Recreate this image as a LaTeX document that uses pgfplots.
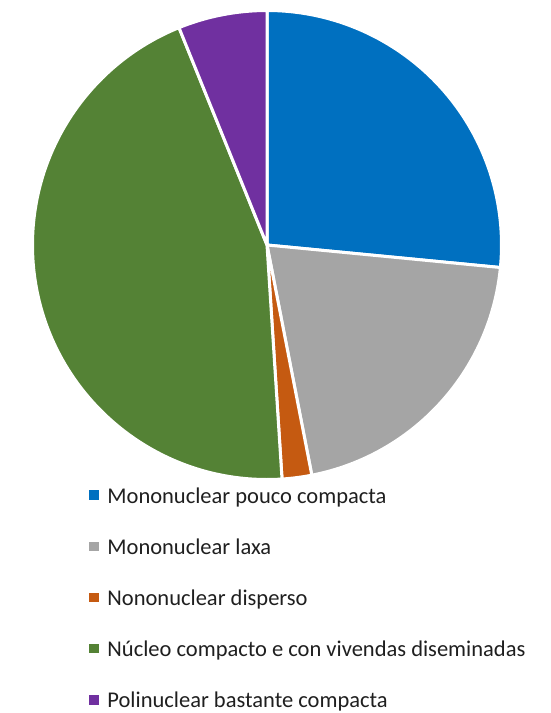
\documentclass[border=0pt]{standalone}
\usepackage{pgfplots}
\usepackage{pgfplotstable}
\pgfplotsset{compat=1.18}
\usepackage{fontspec}
\setmainfont{Carlito}
\definecolor{pc0}{HTML}{0070C0}
\definecolor{pc1}{HTML}{A5A5A5}
\definecolor{pc2}{HTML}{C55A11}
\definecolor{pc3}{HTML}{548235}
\definecolor{pc4}{HTML}{7030A0}
\pgfplotstableread[col sep=comma]{
label,value
Mononuclear pouco compacta,13
Mononuclear laxa,10
Nononuclear disperso,1
Núcleo compacto e con vivendas diseminadas,22
Polinuclear bastante compacta,3
}\piedata
\begin{document}
\begin{tikzpicture}
\useasboundingbox (-32.5pt,-233.5pt) rectangle (517.5pt,479.5pt);
% cumulative angles
\pgfplotstablegetrowsof{\piedata}
\pgfmathtruncatemacro\nrows{\pgfplotsretval-1}
\gdef\pietotal{0}
\foreach \i in {0,...,\nrows}{
  \pgfplotstablegetelem{\i}{value}\of\piedata
  \pgfmathsetmacro\pieT{\pietotal+\pgfplotsretval}
  \xdef\pietotal{\pieT}
}
\pgfmathsetmacro\piedeg{360/\pietotal}
\xdef\piedeg{\piedeg}
\gdef\cumul{0}
\foreach \i in {0,...,\nrows}{
  \pgfplotstablegetelem{\i}{value}\of\piedata
  \let\pieV\pgfplotsretval
  \pgfmathsetmacro\pieA{90-\piedeg*\cumul}
  \pgfmathsetmacro\pieB{90-\piedeg*(\cumul+\pieV)}
  \expandafter\xdef\csname pieS\i\endcsname{\pieA}
  \expandafter\xdef\csname pieE\i\endcsname{\pieB}
  \pgfmathsetmacro\pieC{\cumul+\pieV}
  \xdef\cumul{\pieC}
}
\def\pieR{234.5pt}
\begin{axis}[
  scale only axis,
  width=469pt, height=469pt,
  xmin=-1, xmax=1, ymin=-1, ymax=1,
  hide axis, clip=false,
  legend image code/.code={\fill[#1] (0pt,-1.5pt) rectangle (9pt,7pt);},
  legend style={
    at={(0.1205,-0.016)}, anchor=north west,
    draw=none, fill=none, inner sep=0pt, outer sep=0pt,
    row sep=30.2pt, column sep=9pt,
    font=\fontsize{22.5}{26}\selectfont, text=black!88,
    nodes={inner sep=0pt, text height=16pt, text depth=5pt},
  },
  legend cell align=left,
]
\pgfplotsinvokeforeach{0,...,4}{
  \edef\temp{\noexpand\filldraw[fill=pc#1, draw=white, line width=3pt, line join=round]
    (axis cs:0,0) -- (axis cs:{cos(\csname pieS#1\endcsname)},{sin(\csname pieS#1\endcsname)})
    arc[start angle=\csname pieS#1\endcsname, end angle=\csname pieE#1\endcsname, radius=\pieR] -- cycle;}
  \temp
}
\addlegendimage{pc0}\addlegendentry{Mononuclear pouco compacta}
\addlegendimage{pc1}\addlegendentry{Mononuclear laxa}
\addlegendimage{pc2}\addlegendentry{Nononuclear disperso}
\addlegendimage{pc3}\addlegendentry{Núcleo compacto e con vivendas diseminadas}
\addlegendimage{pc4}\addlegendentry{Polinuclear bastante compacta}
\end{axis}
\end{tikzpicture}
\end{document}
